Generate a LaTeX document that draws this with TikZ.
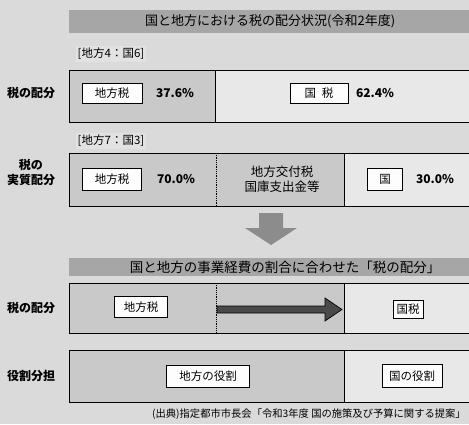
\documentclass[tikz,border=0pt]{standalone}
\usepackage{fontspec}
\setmainfont{Noto Sans CJK JP}
\usetikzlibrary{positioning}
\definecolor{bgc}{HTML}{DADADA}
\definecolor{cellL}{HTML}{C9C9C9}
\definecolor{cellR}{HTML}{E8E8E8}
\definecolor{hdr}{HTML}{A6A6A6}
\definecolor{tag}{HTML}{E2E2E2}
\definecolor{arrowfill}{HTML}{8C8C8C}
\definecolor{arrowdark}{HTML}{4A4A4A}
\tikzset{
  header/.style={fill=hdr, draw=none, anchor=north west, text=black},
  cellbox/.style={draw=black, line width=0.9pt, anchor=north west, inner sep=0pt},
  tagbox/.style={fill=tag, inner sep=2pt, font=\fontsize{11.5}{13}\selectfont},
  innerbox/.style={draw=black, line width=0.6pt, fill=white!90!cellR, inner sep=0pt, font=\fontsize{11.5}{13}\selectfont},
  pct/.style={font=\bfseries\fontsize{12}{14}\selectfont},
  rowlabel/.style={font=\bfseries\fontsize{12}{15}\selectfont, align=center},
}
\begin{document}
\begin{tikzpicture}[x=1pt,y=-1pt]
\useasboundingbox (0,0) rectangle (469,424);
\clip (0,0) rectangle (469,424);
\fill[bgc] (0,0) rectangle (469,424);

% header 1
\node[header, minimum width=402pt, minimum height=23pt] (h1) at (69,10) {};
\node at (h1.center) [font=\fontsize{13}{15}\selectfont] {国と地方における税の配分状況(令和2年度)};

% row 1
\node[tagbox] (t1) at (111,54) {[地方4：国6]};
\node[cellbox, fill=cellL, minimum width=146pt, minimum height=52pt] (r1a) at (69,70) {};
\node[cellbox, fill=cellR, minimum width=260pt, minimum height=52pt] (r1b) at (215,70) {};
\node[rowlabel] (l1) at (31,93) {税の配分};
\node[innerbox, minimum width=60pt, minimum height=20pt] (b1a) at (112,93) {地方税};
\node[pct] (p1a) at (175,93) {37.6\%};
\node[innerbox, minimum width=58pt, minimum height=20pt] (b1b) at (319,93) {国\hspace{0.5em}税};
\node[pct] (p1b) at (375,93) {62.4\%};

% row 2
\node[tagbox] (t2) at (111,141) {[地方7：国3]};
\node[cellbox, fill=cellL, minimum width=275pt, minimum height=53pt] (r2a) at (69,153) {};
\node[cellbox, fill=cellR, minimum width=131pt, minimum height=53pt] (r2b) at (344,153) {};
\coordinate (d2t) at (216,153);
\coordinate (d2b) at (216,206);
\draw[densely dotted, line width=0.8pt] (d2t) -- (d2b);
\node[rowlabel] (l2) at (31,172) {税の\\実質配分};
\node[innerbox, minimum width=59pt, minimum height=22pt] (b2a) at (112,179) {地方税};
\node[pct] (p2a) at (176,179) {70.0\%};
\node[align=center, font=\fontsize{12.5}{15}\selectfont] (m2) at (282,179) {地方交付税\\国庫支出金等};
\node[innerbox, minimum width=35pt, minimum height=22pt] (b2b) at (385,179) {国};
\node[pct] (p2b) at (435,179) {30.0\%};

% down arrow
\fill[arrowfill] (259,213) -- (283,213) -- (283,228) -- (297,228) -- (271,245) -- (245,228) -- (259,228) -- cycle;

% header 2
\node[header, minimum width=402pt, minimum height=18pt] (h2) at (69,258) {};
\node at (h2.center) [font=\fontsize{13.5}{15}\selectfont, xshift=15pt] {国と地方の事業経費の割合に合わせた「税の配分」};

% row 3
\node[cellbox, fill=cellL, minimum width=275pt, minimum height=50pt] (r3a) at (69,283) {};
\node[cellbox, fill=cellR, minimum width=131pt, minimum height=50pt] (r3b) at (344,283) {};
\coordinate (d3t) at (216,283);
\coordinate (d3b) at (216,333);
\draw[densely dotted, line width=0.8pt] (d3t) -- (d3b);
\node[rowlabel] (l3) at (31,308) {税の配分};
\node[innerbox, minimum width=53pt, minimum height=21pt] (b3a) at (141,307) {地方税};
\node[innerbox, minimum width=30pt, minimum height=18pt] (b3b) at (408,309) {国税};
\filldraw[fill=arrowdark, draw=black, line width=0.7pt]
  (217,306) -- (325,306) -- (325,298) -- (342,309.5) -- (325,321) -- (325,313) -- (217,313) -- cycle;

% row 4
\node[cellbox, fill=cellL, minimum width=275pt, minimum height=52pt] (r4a) at (69,350) {};
\node[cellbox, fill=cellR, minimum width=131pt, minimum height=52pt] (r4b) at (344,350) {};
\node[rowlabel] (l4) at (31,376) {役割分担};
\node[innerbox, minimum width=83pt, minimum height=22pt] (b4a) at (208,376) {地方の役割};
\node[innerbox, minimum width=60pt, minimum height=23pt] (b4b) at (412,376) {国の役割};

% source
\node[anchor=east, font=\fontsize{10.3}{12}\selectfont, inner sep=0pt] (src) at (466,414) {(出典)指定都市市長会「令和3年度 国の施策及び予算に関する提案」};
\end{tikzpicture}
\end{document}
